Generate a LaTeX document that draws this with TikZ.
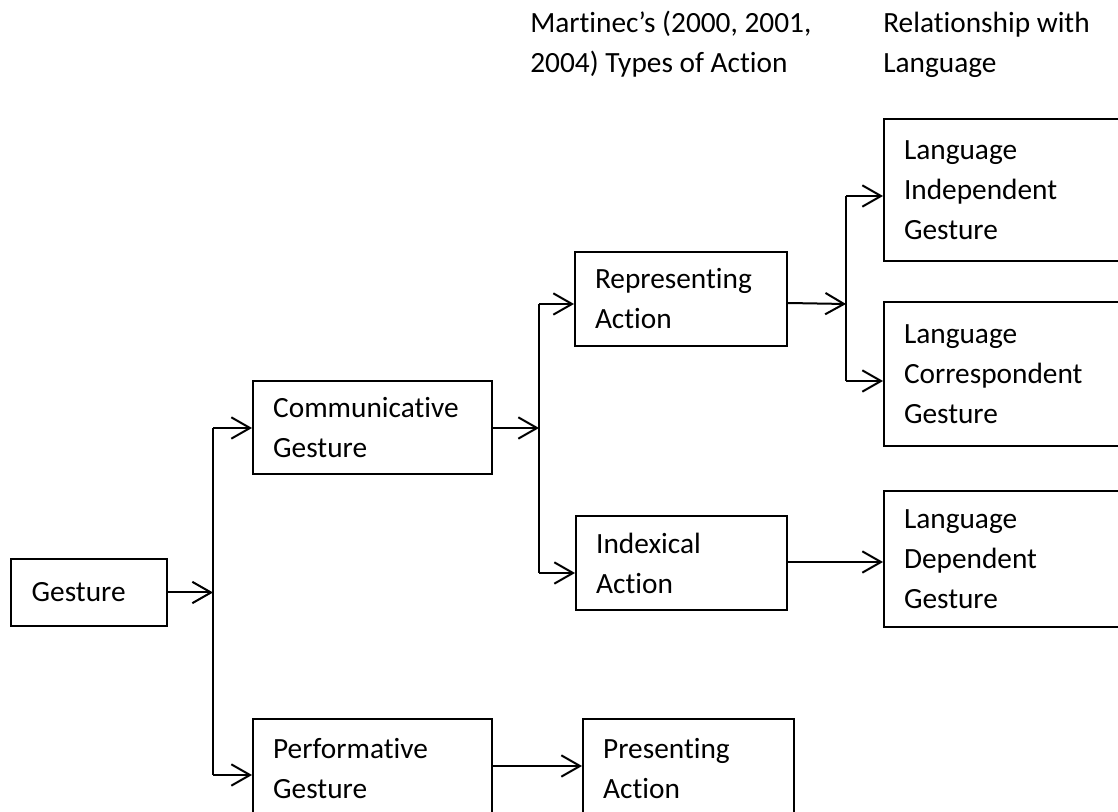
\documentclass[tikz,border=0pt]{standalone}
\usepackage{fontspec}
\setmainfont{Carlito}[Ligatures=NoCommon]
\usetikzlibrary{arrows.meta}
\begin{document}
\begin{tikzpicture}[x=0.75pt,y=-0.75pt,
  box/.style={draw,line width=1.5pt,rectangle,inner xsep=15pt,inner ysep=0pt,
    align=left,font=\fontsize{22pt}{30pt}\selectfont},
  hdr/.style={anchor=base west,inner sep=0pt,align=left,
    font=\fontsize{22pt}{30pt}\selectfont},
  wire/.style={line width=1.5pt},
  arr/.style={line width=1.5pt,-{Straight Barb[length=14pt,width=16pt]}}]
\useasboundingbox (0,0) rectangle (1118,812);
\clip (0,0) rectangle (1118,812);
\fill[white] (0,0) rectangle (1118,812);

% column headings (anchored on the baseline of their second line)
\node[hdr] (h1) at (530,73) {Martinec’s (2000, 2001,\\2004) Types of Action};
\node[hdr] (h2) at (883,73) {Relationship with\\Language};

% boxes
\node[box,minimum width=117pt,minimum height=50.25pt,text width=86pt] (g) at (89,592.5) {Gesture};
\node[box,minimum width=179.25pt,minimum height=69.75pt,text width=149pt] (cg) at (372.5,427.5) {Communicative\\Gesture};
\node[box,minimum width=179.25pt,minimum height=75pt,text width=149pt] (pg) at (372.5,769) {Performative\\Gesture};
\node[box,minimum width=159pt,minimum height=70.5pt,text width=129pt] (ra) at (681,299) {Representing\\Action};
\node[box,minimum width=158.25pt,minimum height=70.5pt,text width=128pt] (ia) at (681.5,563) {Indexical\\Action};
\node[box,minimum width=158.25pt,minimum height=75pt,text width=128pt] (pa) at (688.5,769) {Presenting\\Action};
\node[box,minimum width=192pt,minimum height=106.5pt,text width=162pt] (li) at (1012,190) {Language\\Independent\\Gesture};
\node[box,minimum width=192pt,minimum height=108pt,text width=162pt] (lc) at (1012,374) {Language\\Correspondent\\Gesture};
\node[box,minimum width=192pt,minimum height=102pt,text width=162pt] (ld) at (1012,559) {Language\\Dependent\\Gesture};

% branching points
\coordinate (b1t) at (213,428);
\coordinate (b1b) at (213,775);
\coordinate (b2t) at (539,304);
\coordinate (b2b) at (539,573);
\coordinate (b3t) at (846,196);
\coordinate (b3b) at (846,381);

% first level
\draw[wire] (b1t) -- (b1b);
\draw[arr] (g.east) -- (b1t |- g.east);
\draw[arr] (b1t) -- (cg.west |- b1t);
\draw[arr] (b1b) -- (pg.west |- b1b);

% second level
\draw[wire] (b2t) -- (b2b);
\draw[arr] (cg.east |- b1t) -- (b2t |- b1t);
\draw[arr] (b2t) -- (ra.west |- b2t);
\draw[arr] (b2b) -- (ia.west |- b2b);
\draw[arr] (pg.east |- 0,766) -- (pa.west |- 0,766);

% third level
\draw[wire] (b3t) -- (b3b);
\draw[arr] (ra.east |- 0,303) -- (b3t |- 0,304);
\draw[arr] (b3t) -- (li.west |- b3t);
\draw[arr] (b3b) -- (lc.west |- b3b);
\draw[arr] (ia.east |- 0,562) -- (ld.west |- 0,562);
\end{tikzpicture}
\end{document}
